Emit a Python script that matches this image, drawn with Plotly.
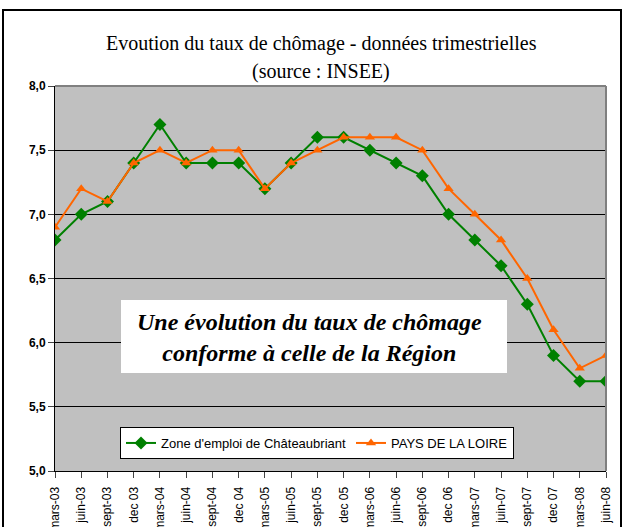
import plotly.graph_objects as go

trimestres = ["mars-03", "juin-03", "sept-03", "dec 03", "mars-04", "juin-04", "sept-04", "dec 04",
              "mars-05", "juin-05", "sept-05", "dec 05", "mars-06", "juin-06", "sept-06", "dec 06",
              "mars-07", "juin-07", "sept-07", "dec 07", "mars-08", "juin-08"]
chateaubriant = [6.8, 7.0, 7.1, 7.4, 7.7, 7.4, 7.4, 7.4, 7.2, 7.4, 7.6, 7.6,
                 7.5, 7.4, 7.3, 7.0, 6.8, 6.6, 6.3, 5.9, 5.7, 5.7]
pays_loire = [6.9, 7.2, 7.1, 7.4, 7.5, 7.4, 7.5, 7.5, 7.2, 7.4, 7.5, 7.6,
              7.6, 7.6, 7.5, 7.2, 7.0, 6.8, 6.5, 6.1, 5.8, 5.9]

W, H = 629, 527
L, R, T, B = 55, 23, 86, 56
pw, ph = W - L - R, H - T - B

def px(x):
    return (x - L) / pw

def py(y):
    return (H - B - y) / ph

fig = go.Figure()
fig.add_trace(go.Scatter(x=trimestres, y=chateaubriant, name="Zone d'emploi de Châteaubriant",
                         mode="lines+markers", line=dict(color="#008000", width=2),
                         marker=dict(symbol="diamond", size=10, color="#008000")))
fig.add_trace(go.Scatter(x=trimestres, y=pays_loire, name="PAYS DE LA LOIRE",
                         mode="lines+markers", line=dict(color="#FF6600", width=2),
                         marker=dict(symbol="triangle-up", size=9, color="#FF6600")))

# cadre exterieur
fig.add_shape(type="rect", xref="paper", yref="paper", x0=px(3), x1=px(621), y0=py(560), y1=py(10),
              line=dict(color="black", width=2), layer="above")
# bord haut / droit gris de la zone de tracé
fig.add_shape(type="line", xref="paper", yref="paper", x0=0, x1=1, y0=1, y1=1,
              line=dict(color="#808080", width=2))
fig.add_shape(type="line", xref="paper", yref="paper", x0=1, x1=1, y0=0, y1=1,
              line=dict(color="#808080", width=2))
# encart commentaire
fig.add_shape(type="rect", xref="paper", yref="paper", x0=px(121), x1=px(507), y0=py(373), y1=py(300),
              fillcolor="white", line=dict(width=0), layer="above")
fig.add_annotation(xref="paper", yref="paper", x=px(309), y=py(337), showarrow=False,
                   text="<b><i>Une évolution du taux de chômage<br>conforme à celle de la Région</i></b>",
                   font=dict(family="Liberation Serif", size=24, color="black"))
titre = ["Evoution du taux de chômage - données trimestrielles", "(source : INSEE)"]
for ligne, yy in zip(titre, [30, 58]):
    fig.add_annotation(xref="paper", yref="paper", x=px(321), y=py(yy), showarrow=False,
                       text=ligne, font=dict(family="Liberation Serif", size=20, color="black"))

fig.update_layout(
    width=W, height=H, margin=dict(l=L, r=R, t=T, b=B),
    paper_bgcolor="white", plot_bgcolor="#C0C0C0",
    separators=", ",
    font=dict(family="Arial, Liberation Sans", size=11, color="black"),
    legend=dict(orientation="h", x=px(120), y=py(427), xanchor="left", yanchor="top",
                bgcolor="white", bordercolor="black", borderwidth=1,
                font=dict(size=13), tracegroupgap=0),
    showlegend=True,
)
fig.update_xaxes(type="category", range=[0, len(trimestres) - 1], tickangle=-90,
                 showline=True, linecolor="black", linewidth=1, ticks="outside", ticklen=6,
                 ticklabelstandoff=4, tickfont=dict(size=12),
                 showgrid=False, automargin=False)
fig.update_yaxes(range=[5.0, 8.0], dtick=0.5, tickformat=".1f", showline=True, linecolor="black",
                 linewidth=1, ticks="outside", ticklen=6, gridcolor="black", gridwidth=1,
                 tickfont=dict(family="Arial, Liberation Sans", size=12), automargin=False,
                 zeroline=False)
fig.for_each_yaxis(lambda a: a.update(tickprefix="<b>", ticksuffix="</b>"))

fig.write_html("out.html", config={"displayModeBar": False},
               post_script="document.body.style.margin='0';")
